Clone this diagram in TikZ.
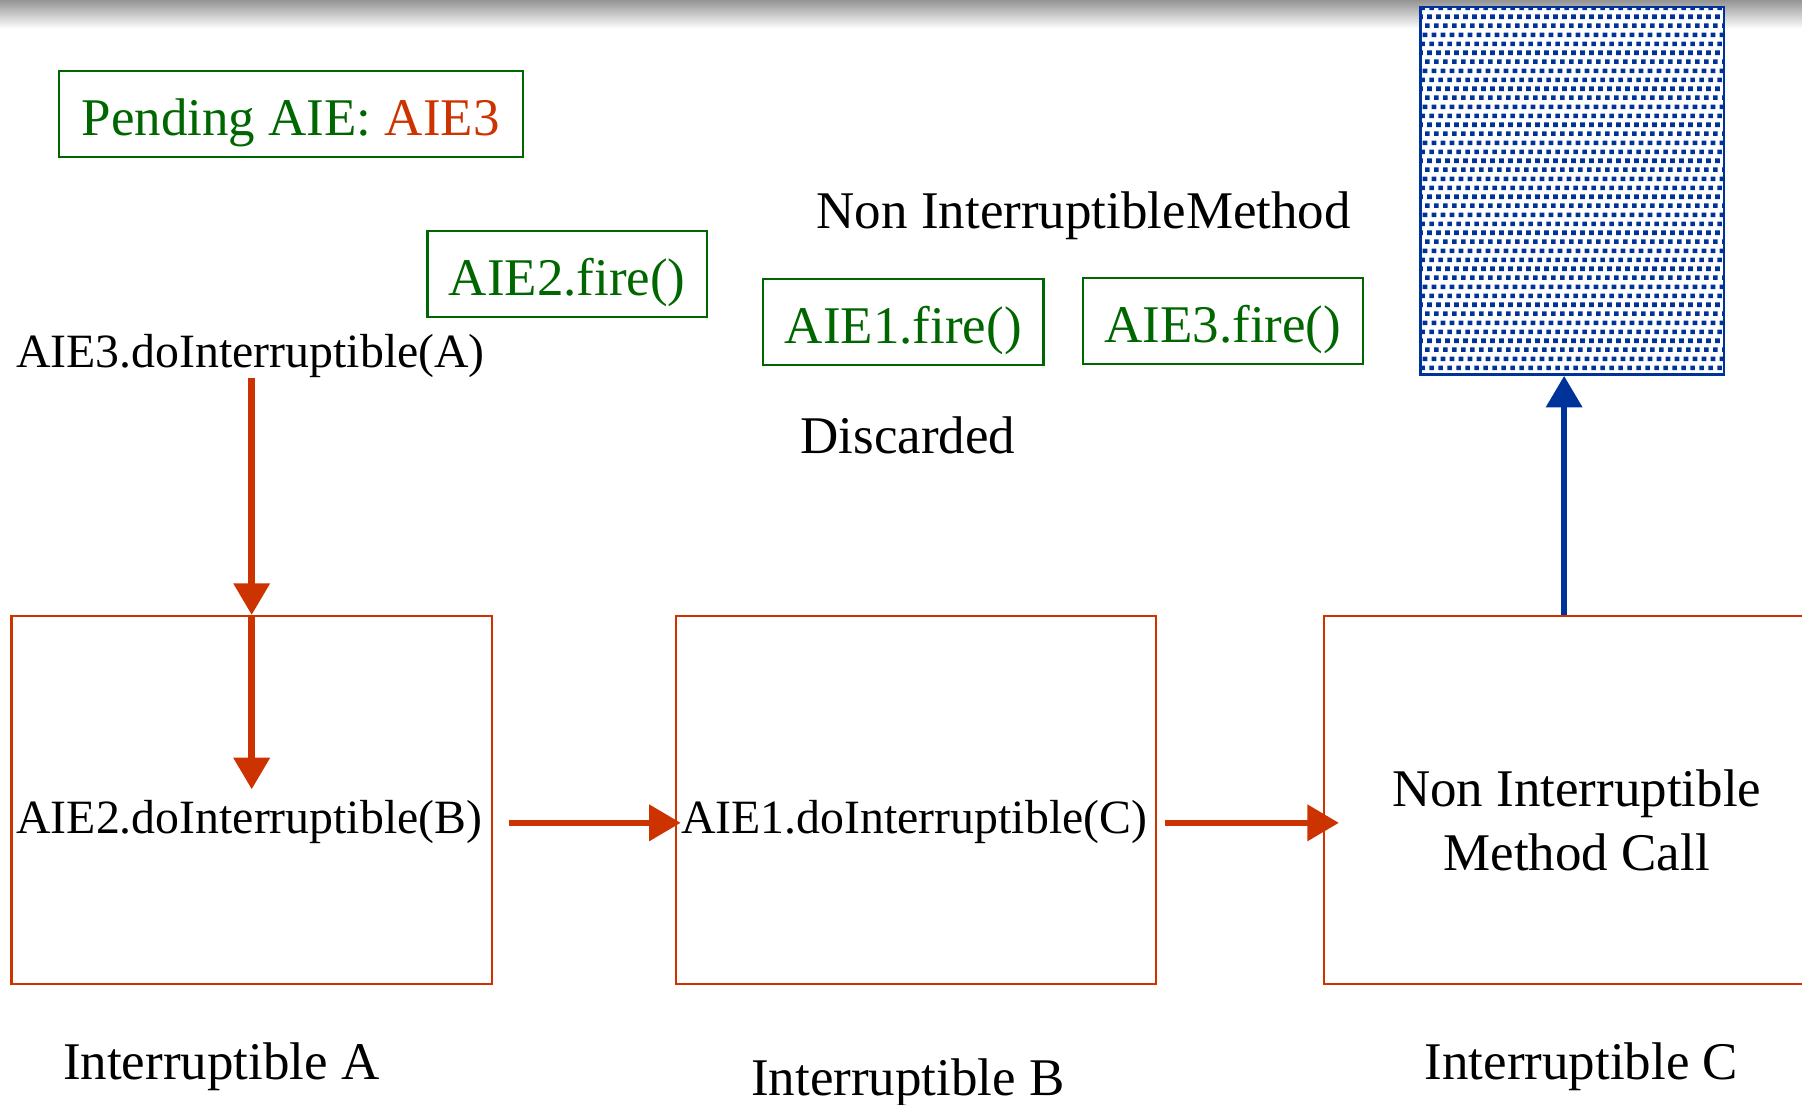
\documentclass[tikz,border=0pt]{standalone}
\usepackage{fontspec}
\setmainfont{Liberation Serif}
\usetikzlibrary{arrows.meta,patterns}

\definecolor{aiered}{RGB}{204,51,0}
\definecolor{aiegreen}{RGB}{0,102,0}
\definecolor{aieblue}{RGB}{0,51,153}

% slanted dot screen for the non-interruptible block
\pgfdeclarepatternformonly{slanted dots}{\pgfqpoint{0pt}{0pt}}{\pgfqpoint{3.9pt}{15.6pt}}{\pgfqpoint{3.9pt}{15.6pt}}{%
  \pgfpathrectangle{\pgfqpoint{0pt}{0pt}}{\pgfqpoint{2pt}{2pt}}%
  \pgfpathrectangle{\pgfqpoint{0.975pt}{3.9pt}}{\pgfqpoint{2pt}{2pt}}%
  \pgfpathrectangle{\pgfqpoint{1.9pt}{7.8pt}}{\pgfqpoint{2pt}{2pt}}%
  \pgfpathrectangle{\pgfqpoint{2.925pt}{11.7pt}}{\pgfqpoint{0.975pt}{2pt}}%
  \pgfpathrectangle{\pgfqpoint{0pt}{11.7pt}}{\pgfqpoint{1.025pt}{2pt}}%
  \pgfusepath{fill}}

\tikzset{
  bigfont/.style={font=\fontsize{23.05pt}{27.5pt}\selectfont},
  smallfont/.style={font=\fontsize{20.8pt}{25pt}\selectfont},
  plain text/.style={bigfont, anchor=base, inner sep=0pt},
  call text/.style={smallfont, anchor=base, inner sep=0pt},
  firebox/.style={bigfont, draw=aiegreen, text=aiegreen, line width=0.9pt,
    anchor=base, inner sep=0pt, text height=28pt, text depth=9.5pt,
    minimum width=122pt},
  framebox/.style={draw=aiered, line width=0.9pt, minimum width=209pt,
    minimum height=160pt, inner sep=0pt},
  flow/.style={draw=aiered, line width=2.9pt,
    -{Triangle[width=15.25pt,length=13.75pt]}},
  upflow/.style={flow, draw=aieblue}
}

\begin{document}
\begin{tikzpicture}[x=0.5pt,y=-0.5pt]
  \useasboundingbox (0,0) rectangle (1568,961);
  \clip (0,0) rectangle (1568,961);

  % soft shadow along the top edge
  \shade[top color=black!42, bottom color=white] (0,0) rectangle (1568,25);

  % pending event and fired events
  \node[firebox, minimum width=202pt] (pending) at (253,118)
    {Pending AIE: \textcolor{aiered}{AIE3}};
  \node[firebox, minimum width=121.5pt] (fire2) at (493.5,257) {AIE2.fire()};
  \node[firebox] (fire1) at (786,299) {AIE1.fire()};
  \node[firebox] (fire3) at (1064,298) {AIE3.fire()};

  \node[plain text] (nimethod) at (943,199) {Non InterruptibleMethod};
  \node[plain text] (discarded) at (790,395) {Discarded};

  % non-interruptible method block
  \node[draw=aieblue, line width=1pt, preaction={fill=white},
        pattern=slanted dots, pattern color=aieblue,
        minimum width=132pt, minimum height=160pt, inner sep=0pt]
        (stack) at (1368,166) {};

  % interruptible frames
  \node[framebox] (boxA) at (219,696) {};
  \node[framebox] (boxB) at (797,696) {};
  \node[framebox] (boxC) at (1361,696) {};

  \node[call text] (callA) at (218,320) {AIE3.doInterruptible(A)};
  \node[call text, inner ysep=4.7pt] (callB) at (217,725.5) {AIE2.doInterruptible(B)};
  \node[call text] (callC) at (795.5,725.5) {AIE1.doInterruptible(C)};
  \node[plain text, align=center, anchor=south] (nicall) at (1372,758)
    {Non Interruptible\\Method Call};

  \node[plain text] (labA) at (192.5,939) {Interruptible A};
  \node[plain text] (labB) at (790,953) {Interruptible B};
  \node[plain text] (labC) at (1376,939) {Interruptible C};

  % control flow
  \coordinate (row) at (0,716);
  \draw[flow] (boxA.north |- callA.south) -- (boxA.north);
  \draw[flow] (boxA.north) -- (boxA.north |- callB.north);
  \draw[flow, shorten <=7pt] (boxA.east |- row) -- (callC.west |- row);
  \draw[flow, shorten <=3.5pt, shorten >=-7pt] (boxB.east |- row) -- (boxC.west |- row);
  \draw[upflow] (boxC.north) -- (boxC.north |- stack.south);
\end{tikzpicture}
\end{document}
